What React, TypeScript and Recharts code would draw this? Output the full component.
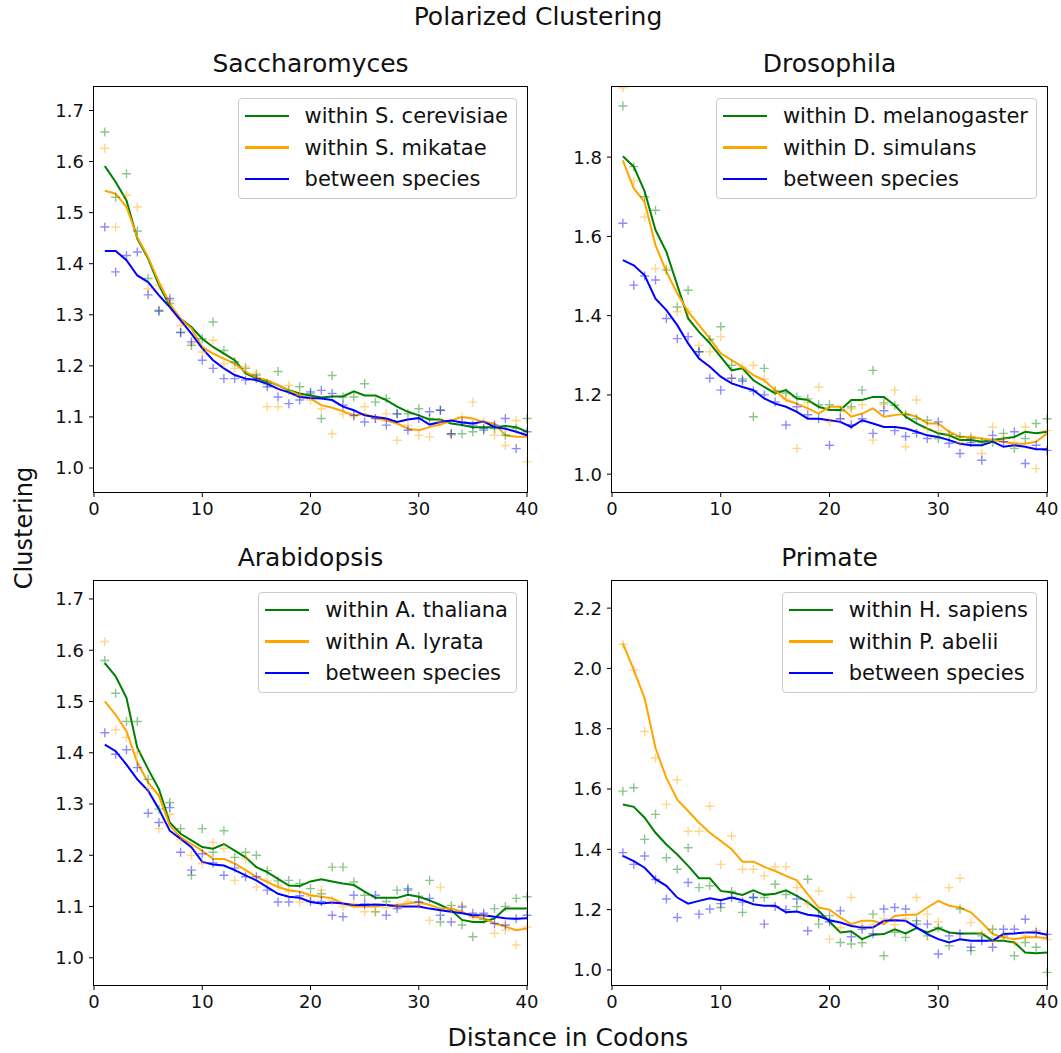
import React from "react";
import { ComposedChart, Line, Scatter, XAxis, YAxis } from "recharts";

const distances = [
  1, 2, 3, 4, 5, 6, 7, 8, 9, 10, 11, 12, 13, 14, 15, 16, 17, 18, 19, 20,
  21, 22, 23, 24, 25, 26, 27, 28, 29, 30, 31, 32, 33, 34, 35, 36, 37, 38, 39, 40,
];
const xTicks = [0, 10, 20, 30, 40];

// Saccharomyces
const saccGreenLine = [1.591, 1.56, 1.524, 1.449, 1.41, 1.358, 1.318, 1.292, 1.276, 1.253, 1.237, 1.224, 1.211, 1.185, 1.176, 1.17, 1.162, 1.152, 1.146, 1.142, 1.138, 1.14, 1.14, 1.15, 1.142, 1.142, 1.133, 1.12, 1.11, 1.103, 1.095, 1.095, 1.087, 1.084, 1.08, 1.08, 1.08, 1.082, 1.08, 1.071];
const saccOrangeLine = [1.543, 1.537, 1.511, 1.452, 1.413, 1.364, 1.322, 1.292, 1.273, 1.237, 1.224, 1.214, 1.204, 1.188, 1.178, 1.172, 1.162, 1.152, 1.142, 1.136, 1.123, 1.118, 1.111, 1.103, 1.106, 1.098, 1.093, 1.087, 1.077, 1.074, 1.08, 1.085, 1.093, 1.1, 1.097, 1.09, 1.087, 1.064, 1.061, 1.061];
const saccBlueLine = [1.425, 1.425, 1.407, 1.377, 1.364, 1.338, 1.315, 1.289, 1.263, 1.234, 1.211, 1.195, 1.182, 1.175, 1.172, 1.165, 1.155, 1.148, 1.139, 1.137, 1.136, 1.133, 1.12, 1.113, 1.103, 1.1, 1.097, 1.09, 1.095, 1.098, 1.085, 1.09, 1.093, 1.089, 1.087, 1.091, 1.08, 1.077, 1.071, 1.064];
const saccGreenPts = [1.658, 1.53, 1.576, 1.464, 1.371, 1.309, 1.322, 1.266, 1.24, 1.253, 1.286, 1.23, 1.208, 1.195, 1.182, 1.165, 1.189, 1.152, 1.159, 1.146, 1.097, 1.181, 1.139, 1.139, 1.165, 1.129, 1.136, 1.106, 1.106, 1.116, 1.097, 1.113, 1.067, 1.067, 1.071, 1.074, 1.077, 1.064, 1.077, 1.097];
const saccOrangePts = [1.626, 1.472, 1.534, 1.511, 1.351, 1.358, 1.328, 1.279, 1.243, 1.227, 1.25, 1.204, 1.195, 1.198, 1.185, 1.12, 1.12, 1.162, 1.142, 1.133, 1.116, 1.067, 1.106, 1.1, 1.12, 1.097, 1.106, 1.054, 1.084, 1.064, 1.061, 1.09, 1.064, 1.1, 1.129, 1.09, 1.064, 1.044, 1.093, 1.012];
const saccBluePts = [1.472, 1.384, 1.416, 1.423, 1.339, 1.307, 1.332, 1.265, 1.247, 1.211, 1.195, 1.175, 1.175, 1.172, 1.175, 1.159, 1.139, 1.126, 1.133, 1.149, 1.152, 1.146, 1.123, 1.103, 1.09, 1.097, 1.084, 1.106, 1.074, 1.097, 1.11, 1.113, 1.067, 1.09, 1.084, 1.077, 1.084, 1.097, 1.038, 1.071];

// Drosophila
const droGreenLine = [1.802, 1.776, 1.714, 1.616, 1.561, 1.477, 1.393, 1.359, 1.33, 1.296, 1.262, 1.267, 1.237, 1.22, 1.204, 1.212, 1.191, 1.187, 1.17, 1.162, 1.162, 1.187, 1.187, 1.195, 1.195, 1.174, 1.145, 1.128, 1.115, 1.103, 1.098, 1.086, 1.086, 1.082, 1.086, 1.09, 1.094, 1.107, 1.103, 1.107];
const droOrangeLine = [1.792, 1.721, 1.687, 1.578, 1.511, 1.456, 1.41, 1.376, 1.342, 1.305, 1.288, 1.271, 1.25, 1.237, 1.212, 1.187, 1.178, 1.166, 1.153, 1.17, 1.17, 1.145, 1.153, 1.166, 1.145, 1.149, 1.153, 1.145, 1.128, 1.128, 1.107, 1.094, 1.094, 1.09, 1.086, 1.082, 1.077, 1.077, 1.082, 1.103];
const droBlueLine = [1.54, 1.527, 1.502, 1.443, 1.414, 1.376, 1.33, 1.292, 1.271, 1.246, 1.229, 1.22, 1.212, 1.191, 1.178, 1.17, 1.157, 1.14, 1.14, 1.136, 1.132, 1.119, 1.136, 1.128, 1.119, 1.119, 1.115, 1.107, 1.098, 1.094, 1.086, 1.077, 1.073, 1.073, 1.082, 1.069, 1.073, 1.069, 1.063, 1.063];
const droGreenPts = [1.929, 1.776, 1.7, 1.666, 1.515, 1.422, 1.464, 1.309, 1.34, 1.372, 1.275, 1.24, 1.145, 1.267, 1.21, 1.205, 1.195, 1.19, 1.175, 1.175, 1.16, 1.17, 1.212, 1.262, 1.18, 1.174, 1.15, 1.14, 1.136, 1.09, 1.1, 1.095, 1.09, 1.08, 1.08, 1.103, 1.065, 1.09, 1.128, 1.14];
const droOrangePts = [1.975, 1.74, 1.649, 1.519, 1.52, 1.41, 1.41, 1.325, 1.309, 1.347, 1.242, 1.27, 1.275, 1.24, 1.212, 1.19, 1.065, 1.18, 1.22, 1.132, 1.14, 1.165, 1.175, 1.086, 1.175, 1.212, 1.069, 1.187, 1.115, 1.11, 1.1, 1.08, 1.095, 1.052, 1.119, 1.09, 1.08, 1.119, 1.014, 1.11];
const droBluePts = [1.633, 1.477, 1.5, 1.49, 1.393, 1.342, 1.347, 1.309, 1.242, 1.212, 1.242, 1.235, 1.21, 1.2, 1.182, 1.124, 1.17, 1.15, 1.14, 1.073, 1.14, 1.125, 1.14, 1.103, 1.16, 1.11, 1.095, 1.103, 1.09, 1.132, 1.078, 1.052, 1.08, 1.035, 1.098, 1.082, 1.107, 1.027, 1.073, 1.06];

// Arabidopsis
const araGreenLine = [1.575, 1.549, 1.507, 1.41, 1.368, 1.329, 1.264, 1.242, 1.229, 1.216, 1.213, 1.222, 1.209, 1.196, 1.177, 1.167, 1.154, 1.141, 1.14, 1.149, 1.153, 1.149, 1.145, 1.142, 1.129, 1.117, 1.117, 1.117, 1.123, 1.119, 1.112, 1.103, 1.093, 1.074, 1.07, 1.07, 1.077, 1.096, 1.096, 1.096];
const araOrangeLine = [1.5, 1.474, 1.442, 1.381, 1.342, 1.316, 1.258, 1.235, 1.222, 1.209, 1.193, 1.193, 1.184, 1.171, 1.158, 1.148, 1.138, 1.132, 1.129, 1.122, 1.119, 1.116, 1.106, 1.1, 1.1, 1.1, 1.103, 1.103, 1.106, 1.109, 1.103, 1.096, 1.096, 1.09, 1.08, 1.077, 1.067, 1.061, 1.054, 1.057];
const araBlueLine = [1.416, 1.403, 1.377, 1.348, 1.326, 1.29, 1.248, 1.232, 1.216, 1.187, 1.182, 1.18, 1.171, 1.161, 1.151, 1.138, 1.125, 1.119, 1.117, 1.109, 1.106, 1.108, 1.106, 1.103, 1.103, 1.104, 1.103, 1.1, 1.1, 1.1, 1.096, 1.093, 1.09, 1.087, 1.083, 1.083, 1.08, 1.077, 1.076, 1.077];
const araGreenPts = [1.58, 1.516, 1.461, 1.461, 1.348, 1.29, 1.303, 1.252, 1.161, 1.252, 1.206, 1.248, 1.196, 1.206, 1.2, 1.17, 1.15, 1.151, 1.145, 1.135, 1.125, 1.177, 1.177, 1.148, 1.122, 1.09, 1.11, 1.132, 1.135, 1.12, 1.151, 1.07, 1.102, 1.064, 1.041, 1.075, 1.096, 1.1, 1.116, 1.119];
const araOrangePts = [1.617, 1.445, 1.43, 1.4, 1.33, 1.252, 1.28, 1.23, 1.2, 1.184, 1.225, 1.213, 1.151, 1.193, 1.138, 1.15, 1.141, 1.13, 1.109, 1.12, 1.132, 1.112, 1.1, 1.105, 1.09, 1.09, 1.098, 1.1, 1.11, 1.103, 1.073, 1.138, 1.095, 1.102, 1.08, 1.083, 1.048, 1.054, 1.025, 1.06];
const araBluePts = [1.439, 1.397, 1.406, 1.371, 1.282, 1.264, 1.293, 1.206, 1.171, 1.203, 1.185, 1.161, 1.175, 1.158, 1.158, 1.132, 1.109, 1.109, 1.121, 1.11, 1.11, 1.083, 1.08, 1.122, 1.105, 1.122, 1.083, 1.096, 1.132, 1.109, 1.116, 1.083, 1.07, 1.099, 1.087, 1.087, 1.067, 1.064, 1.076, 1.083];

// Primate
const priGreenLine = [1.549, 1.541, 1.505, 1.455, 1.416, 1.383, 1.345, 1.304, 1.304, 1.262, 1.257, 1.249, 1.264, 1.249, 1.253, 1.264, 1.246, 1.224, 1.196, 1.16, 1.124, 1.128, 1.102, 1.117, 1.119, 1.135, 1.121, 1.139, 1.124, 1.139, 1.124, 1.121, 1.121, 1.121, 1.097, 1.097, 1.091, 1.058, 1.055, 1.058];
const priOrangeLine = [2.083, 1.995, 1.901, 1.736, 1.637, 1.565, 1.527, 1.488, 1.455, 1.428, 1.4, 1.359, 1.359, 1.342, 1.328, 1.312, 1.297, 1.251, 1.207, 1.2, 1.174, 1.152, 1.163, 1.163, 1.152, 1.179, 1.183, 1.183, 1.207, 1.229, 1.213, 1.207, 1.191, 1.157, 1.119, 1.108, 1.102, 1.108, 1.108, 1.106];
const priBlueLine = [1.378, 1.361, 1.339, 1.301, 1.279, 1.24, 1.22, 1.229, 1.238, 1.231, 1.24, 1.231, 1.218, 1.213, 1.213, 1.191, 1.194, 1.183, 1.179, 1.165, 1.157, 1.146, 1.141, 1.141, 1.163, 1.165, 1.163, 1.141, 1.119, 1.102, 1.091, 1.102, 1.097, 1.097, 1.097, 1.119, 1.121, 1.124, 1.124, 1.117];
const priGreenPts = [1.593, 1.604, 1.433, 1.516, 1.372, 1.334, 1.405, 1.273, 1.279, 1.207, 1.26, 1.191, 1.24, 1.24, 1.284, 1.25, 1.21, 1.301, 1.152, 1.18, 1.091, 1.086, 1.09, 1.185, 1.047, 1.125, 1.108, 1.163, 1.113, 1.141, 1.08, 1.202, 1.064, 1.113, 1.135, 1.113, 1.047, 1.091, 1.075, 0.992];
const priOrangePts = [2.08, 1.995, 1.791, 1.703, 1.549, 1.631, 1.46, 1.46, 1.543, 1.35, 1.444, 1.334, 1.334, 1.312, 1.342, 1.342, 1.273, 1.22, 1.262, 1.102, 1.14, 1.24, 1.145, 1.15, 1.17, 1.15, 1.17, 1.24, 1.185, 1.16, 1.273, 1.304, 1.157, 1.12, 1.095, 1.11, 1.09, 1.113, 1.13, 1.1];
const priBluePts = [1.389, 1.35, 1.378, 1.3, 1.235, 1.174, 1.29, 1.185, 1.202, 1.22, 1.24, 1.225, 1.24, 1.152, 1.21, 1.2, 1.235, 1.13, 1.18, 1.16, 1.196, 1.11, 1.135, 1.12, 1.202, 1.207, 1.202, 1.152, 1.152, 1.053, 1.113, 1.12, 1.075, 1.097, 1.075, 1.135, 1.135, 1.168, 1.124, 1.118];

const GREEN = "#008000";
const ORANGE = "#ffa500";
const BLUE = "#0000ff";
const FONT = '"DejaVu Sans", sans-serif';
const TEXT = "#111";

// matplotlib "+" marker, semi-transparent
const plusShape = (color: string) => (props: any) => {
  const { cx, cy } = props;
  if (cx == null || cy == null) return <g />;
  const s = 4.5;
  return (
    <path
      d={`M${cx - s},${cy}H${cx + s}M${cx},${cy - s}V${cy + s}`}
      stroke={color}
      strokeOpacity={0.45}
      strokeWidth={1.4}
      fill="none"
    />
  );
};

interface PanelProps {
  title: string;
  names: string[];
  green: number[];
  orange: number[];
  blue: number[];
  greenPts: number[];
  orangePts: number[];
  bluePts: number[];
  domain: [number, number];
  ticks: number[];
  left: number;
  top: number;
  width: number;
  height: number;
}

function Panel(p: PanelProps) {
  const data = distances.map((x, i) => ({
    x,
    gL: p.green[i],
    oL: p.orange[i],
    bL: p.blue[i],
    gP: p.greenPts[i],
    oP: p.orangePts[i],
    bP: p.bluePts[i],
  }));
  const tickStyle = { fontSize: 18, fill: TEXT, fontFamily: FONT };

  return (
    <div style={{ position: "absolute", left: p.left, top: p.top, width: p.width, height: p.height }}>
      <div
        style={{
          position: "absolute",
          left: 0,
          top: -37,
          width: p.width,
          textAlign: "center",
          fontSize: 25,
          lineHeight: "28px",
          color: TEXT,
        }}
      >
        {p.title}
      </div>
      <div style={{ position: "absolute", left: -50, top: 0 }}>
        <ComposedChart
          width={p.width + 50 + 24}
          height={p.height + 34}
          data={data}
          margin={{ top: 0, right: 24, bottom: 0, left: 0 }}
        >
          <XAxis
            dataKey="x"
            type="number"
            domain={[0, 40]}
            ticks={xTicks}
            height={34}
            axisLine={false}
            tickSize={5}
            tickMargin={5}
            tickLine={{ stroke: "#000" }}
            tick={tickStyle}
          />
          <YAxis
            type="number"
            domain={p.domain}
            ticks={p.ticks}
            allowDataOverflow
            width={50}
            axisLine={false}
            tickSize={5}
            tickMargin={5}
            tickLine={{ stroke: "#000" }}
            tick={tickStyle}
            tickFormatter={(v: number) => v.toFixed(1)}
          />
          <Scatter dataKey="gP" shape={plusShape(GREEN)} isAnimationActive={false} />
          <Scatter dataKey="oP" shape={plusShape(ORANGE)} isAnimationActive={false} />
          <Scatter dataKey="bP" shape={plusShape(BLUE)} isAnimationActive={false} />
          <Line dataKey="gL" type="linear" stroke={GREEN} strokeWidth={2} dot={false} activeDot={false} isAnimationActive={false} />
          <Line dataKey="oL" type="linear" stroke={ORANGE} strokeWidth={2} dot={false} activeDot={false} isAnimationActive={false} />
          <Line dataKey="bL" type="linear" stroke={BLUE} strokeWidth={2} dot={false} activeDot={false} isAnimationActive={false} />
        </ComposedChart>
      </div>
      <div
        style={{
          position: "absolute",
          left: -1,
          top: -1,
          width: p.width + 2,
          height: p.height + 2,
          border: "1px solid #000",
          boxSizing: "border-box",
          pointerEvents: "none",
        }}
      />
      <div
        style={{
          position: "absolute",
          right: 10,
          top: 11,
          background: "rgba(255,255,255,0.8)",
          border: "1px solid #ccc",
          borderRadius: 4,
          padding: "1px 8px 3px 6px",
          fontSize: 21,
          color: TEXT,
        }}
      >
        {p.names.map((name, i) => (
          <div key={name} style={{ display: "flex", alignItems: "center", height: 31.7, whiteSpace: "nowrap" }}>
            <div style={{ width: 44, height: 2.2, background: [GREEN, ORANGE, BLUE][i], marginRight: 16 }} />
            <span>{name}</span>
          </div>
        ))}
      </div>
    </div>
  );
}

export default function App() {
  return (
    <div
      style={{
        position: "absolute",
        left: 0,
        top: 0,
        width: 1061,
        height: 1053,
        background: "#fff",
        fontFamily: FONT,
        color: TEXT,
      }}
    >
      <div style={{ position: "absolute", left: 0, top: 3, width: 1076, textAlign: "center", fontSize: 25, lineHeight: "28px" }}>
        Polarized Clustering
      </div>
      <Panel
        title="Saccharomyces"
        names={["within S. cerevisiae", "within S. mikatae", "between species"]}
        green={saccGreenLine}
        orange={saccOrangeLine}
        blue={saccBlueLine}
        greenPts={saccGreenPts}
        orangePts={saccOrangePts}
        bluePts={saccBluePts}
        domain={[0.953, 1.746]}
        ticks={[1.0, 1.1, 1.2, 1.3, 1.4, 1.5, 1.6, 1.7]}
        left={94}
        top={87}
        width={433}
        height={405}
      />
      <Panel
        title="Drosophila"
        names={["within D. melanogaster", "within D. simulans", "between species"]}
        green={droGreenLine}
        orange={droOrangeLine}
        blue={droBlueLine}
        greenPts={droGreenPts}
        orangePts={droOrangePts}
        bluePts={droBluePts}
        domain={[0.955, 1.977]}
        ticks={[1.0, 1.2, 1.4, 1.6, 1.8]}
        left={612}
        top={87}
        width={435}
        height={405}
      />
      <Panel
        title="Arabidopsis"
        names={["within A. thaliana", "within A. lyrata", "between species"]}
        green={araGreenLine}
        orange={araOrangeLine}
        blue={araBlueLine}
        greenPts={araGreenPts}
        orangePts={araOrangePts}
        bluePts={araBluePts}
        domain={[0.947, 1.735]}
        ticks={[1.0, 1.1, 1.2, 1.3, 1.4, 1.5, 1.6, 1.7]}
        left={94}
        top={581}
        width={433}
        height={404}
      />
      <Panel
        title="Primate"
        names={["within H. sapiens", "within P. abelii", "between species"]}
        green={priGreenLine}
        orange={priOrangeLine}
        blue={priBlueLine}
        greenPts={priGreenPts}
        orangePts={priOrangePts}
        bluePts={priBluePts}
        domain={[0.95, 2.29]}
        ticks={[1.0, 1.2, 1.4, 1.6, 1.8, 2.0, 2.2]}
        left={612}
        top={581}
        width={435}
        height={404}
      />
      <div
        style={{
          position: "absolute",
          left: 24,
          top: 528,
          transform: "translate(-50%, -50%) rotate(-90deg)",
          fontSize: 24,
          whiteSpace: "nowrap",
        }}
      >
        Clustering
      </div>
      <div style={{ position: "absolute", left: 0, top: 1024, width: 1136, textAlign: "center", fontSize: 25, lineHeight: "28px" }}>
        Distance in Codons
      </div>
    </div>
  );
}
